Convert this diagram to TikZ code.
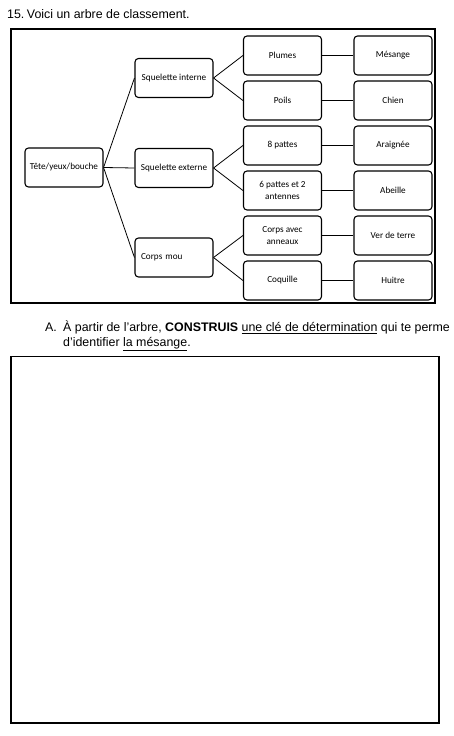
\documentclass[tikz,border=0pt]{standalone}
\usepackage{fontspec}
\setmainfont{Liberation Sans}
\newfontfamily\boxfont{Carlito}
\begin{document}
\begin{tikzpicture}[x=1pt,y=-1pt,
  treebox/.style={draw, rounded corners=3.5pt, line width=1.1pt, minimum width=78pt, minimum height=39pt,
    align=center, inner sep=1pt, font=\boxfont\fontsize{9.2}{12}\selectfont},
  fan/.style={line width=0.8pt},
  link/.style={line width=1.6pt},
  frame/.style={draw, line width=1.4pt},
  bodytext/.style={anchor=base west, inner sep=0pt, font=\fontsize{12.4}{14}\selectfont}
]
\useasboundingbox (0,0) rectangle (453,736);
% title
\node[anchor=base west, inner sep=0pt, font=\fontsize{12.4}{14}\selectfont] (title) at (7,18) {15.\hspace{2.5pt}Voici un arbre de classement.};
% outer frame
\draw[frame] (11,29) rectangle (435,303);
% column 1
\node[treebox] (tete) at (64,167.5) {Tête/yeux/bouche};
% column 2
\node[treebox] (si) at (174,78) {Squelette interne};
\node[treebox] (se) at (174,168) {Squelette externe};
\node[treebox, text width=66pt, align=left] (cm) at (174,257.5) {Corps mou};
% column 3
\node[treebox] (plumes) at (282.5,55.5) {Plumes};
\node[treebox] (poils) at (282.5,100.5) {Poils};
\node[treebox] (huit) at (282.5,145.5) {8 pattes};
\node[treebox] (six) at (282.5,190.5) {6 pattes et 2\\antennes};
\node[treebox] (anneaux) at (282.5,235.5) {Corps avec\\anneaux};
\node[treebox] (coquille) at (282.5,280.5) {Coquille};
% column 4
\node[treebox] (mesange) at (393,55.5) {Mésange};
\node[treebox] (chien) at (393,100.5) {Chien};
\node[treebox] (araignee) at (393,145.5) {Araignée};
\node[treebox] (abeille) at (393,190.5) {Abeille};
\node[treebox] (ver) at (393,235.5) {Ver de terre};
\node[treebox] (huitre) at (393,280.5) {Huitre};
% connectors
\draw[fan] (tete.east) -- (si.west);
\draw[fan] (tete.east) -- (se.west);
\draw[fan] (tete.east) -- (cm.west);
\draw[fan] (si.east) -- (plumes.west);
\draw[fan] (si.east) -- (poils.west);
\draw[fan] (se.east) -- (huit.west);
\draw[fan] (se.east) -- (six.west);
\draw[fan] (cm.east) -- (anneaux.west);
\draw[fan] (cm.east) -- (coquille.west);
\draw[link] (plumes) -- (mesange);
\draw[link] (poils) -- (chien);
\draw[link] (huit) -- (araignee);
\draw[link] (six) -- (abeille);
\draw[link] (anneaux) -- (ver);
\draw[link] (coquille) -- (huitre);
% question
\node[bodytext] (qa) at (45,331.5) {A.};
\node[bodytext] (q1) at (63,331.5) {À partir de l'arbre, \textbf{CONSTRUIS} \underline{une clé de détermination} qui te perme};
\node[bodytext] (q2) at (63,346) {d'identifier \underline{la mésange}.};
% answer box
\draw[frame] (11,356.5) rectangle (439,723);
\end{tikzpicture}
\end{document}
